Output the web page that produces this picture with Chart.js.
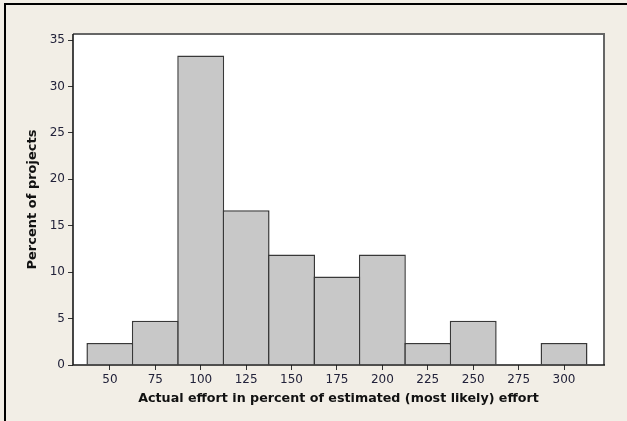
<!DOCTYPE html>
<html>
<head>
<meta charset="utf-8">
<script src="https://cdn.jsdelivr.net/npm/chart.js@4"></script>
<style>
  html, body { margin: 0; padding: 0; background: #f2eee6; }
  #wrap { width: 627px; height: 421px; }
</style>
</head>
<body>
<div id="wrap"><canvas id="hist"></canvas></div>
<script>
// bin midpoints (percent of estimated effort) and percent of projects per bin
const binCenters = [50, 75, 100, 125, 150, 175, 200, 225, 250, 275, 300];
const percentOfProjects = [2.38, 4.76, 33.33, 16.67, 11.9, 9.52, 11.9, 2.38, 4.76, 0, 2.38];
const xTicks = [50, 75, 100, 125, 150, 175, 200, 225, 250, 275, 300];
const yTicks = [0, 5, 10, 15, 20, 25, 30, 35];

const tickColor = '#22223a';

// paints the beige panel, the black edge lines and the plot frame
const backdrop = {
    id: 'backdrop',
    beforeDraw(chart) {
        const ctx = chart.ctx;
        const a = chart.chartArea;
        ctx.save();
        ctx.fillStyle = '#f2eee6';
        ctx.fillRect(0, 0, chart.width, chart.height);
        ctx.strokeStyle = '#000';
        ctx.lineWidth = 2;
        ctx.beginPath();
        ctx.moveTo(5, chart.height);
        ctx.lineTo(5, 4);
        ctx.lineTo(chart.width, 4);
        ctx.stroke();
        ctx.fillStyle = '#fff';
        ctx.fillRect(a.left, a.top, a.right - a.left, a.bottom - a.top);
        ctx.restore();
    },
    afterDraw(chart) {
        const ctx = chart.ctx;
        const a = chart.chartArea;
        ctx.save();
        ctx.strokeStyle = '#666';
        ctx.lineWidth = 2;
        ctx.beginPath();
        ctx.moveTo(a.left, a.top);
        ctx.lineTo(a.right, a.top);
        ctx.lineTo(a.right, a.bottom);
        ctx.stroke();
        ctx.strokeStyle = '#1a1a1a';
        ctx.lineWidth = 1.6;
        ctx.beginPath();
        ctx.moveTo(a.left, a.top);
        ctx.lineTo(a.left, a.bottom);
        ctx.lineTo(a.right + 1, a.bottom);
        ctx.stroke();
        ctx.restore();
    }
};

new Chart(document.getElementById('hist').getContext('2d'), {
    type: 'bar',
    data: {
        datasets: [{
            data: binCenters.map((x, i) => ({ x: x, y: percentOfProjects[i] })),
            backgroundColor: '#c8c8c8',
            borderColor: '#383838',
            borderWidth: 1.5,
            borderSkipped: 'bottom',
            barPercentage: 1.033,
            categoryPercentage: 1
        }]
    },
    options: {
        responsive: true,
        maintainAspectRatio: false,
        animation: false,
        layout: { padding: { left: 0, top: 34, right: 23, bottom: 0 } },
        plugins: { legend: { display: false }, tooltip: { enabled: false } },
        scales: {
            x: {
                type: 'linear',
                offset: false,
                min: 29.7,
                max: 322,
                afterFit: s => { s.height = 56; },
                afterBuildTicks: s => { s.ticks = xTicks.map(v => ({ value: v })); },
                grid: { offset: false, drawOnChartArea: false, drawTicks: true, tickLength: 5, color: '#333', lineWidth: 1 },
                border: { display: false },
                ticks: {
                    color: tickColor,
                    padding: 3,
                    maxRotation: 0,
                    autoSkip: false,
                    font: { family: 'DejaVu Sans', size: 12 }
                },
                title: {
                    display: true,
                    text: 'Actual effort in percent of estimated (most likely) effort',
                    color: '#111',
                    padding: { top: 0, bottom: 15 },
                    font: { family: 'DejaVu Sans', size: 12.7, weight: 'bold' }
                }
            },
            y: {
                min: 0,
                max: 35.65,
                afterFit: s => { s.width = 73; },
                afterBuildTicks: s => { s.ticks = yTicks.map(v => ({ value: v })); },
                grid: { drawOnChartArea: false, drawTicks: true, tickLength: 5, color: '#333', lineWidth: 1 },
                border: { display: false },
                ticks: {
                    color: tickColor,
                    padding: 3,
                    autoSkip: false,
                    font: { family: 'DejaVu Sans', size: 12 }
                },
                title: {
                    display: true,
                    text: 'Percent of projects',
                    color: '#111',
                    padding: { top: 25, bottom: 0 },
                    font: { family: 'DejaVu Sans', size: 13, weight: 'bold' }
                }
            }
        }
    },
    plugins: [backdrop]
});
</script>
</body>
</html>
